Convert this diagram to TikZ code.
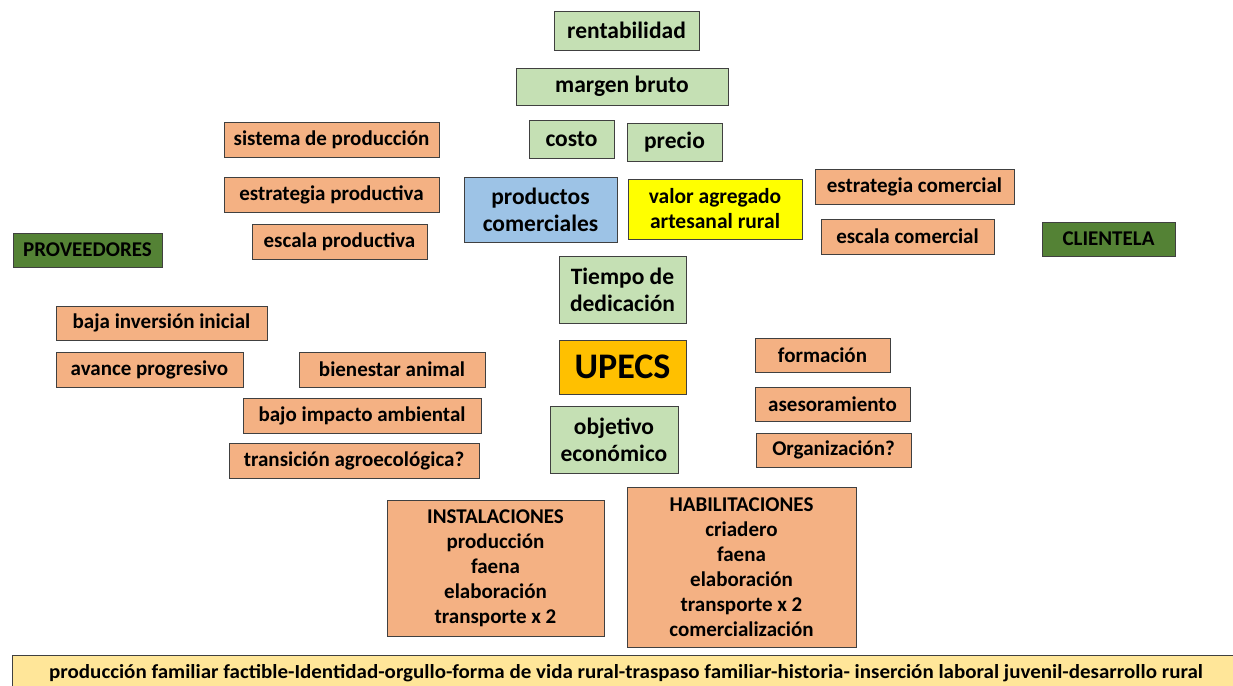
\documentclass[tikz,border=0pt]{standalone}
\usepackage{fontspec}
\setmainfont{Carlito}
\definecolor{cgreen}{HTML}{C5E0B4}
\definecolor{corange}{HTML}{F4B183}
\definecolor{cblue}{HTML}{9DC3E6}
\definecolor{cyellow}{HTML}{FFFF00}
\definecolor{cdkgreen}{HTML}{548235}
\definecolor{cgold}{HTML}{FFC000}
\definecolor{cbar}{HTML}{FFE699}
\definecolor{cborder}{HTML}{404040}
\begin{document}
\begin{tikzpicture}[x=1pt,y=-1pt,
  box/.style={draw=cborder,line width=0.8pt,inner sep=0pt,align=center,
    font=\fontsize{21}{25}\selectfont\bfseries,text=black},
  big/.style={font=\fontsize{23.5}{27}\selectfont\bfseries},
  gbox/.style={box,big,fill=cgreen},
  obox/.style={box,fill=corange},
]
\useasboundingbox (0,0) rectangle (1233,685);
\fill[white] (0,0) rectangle (1233,685);
\newcommand\bx[7]{% style, name, l, t, r, b, text
  \node[#1,minimum width={#5-#3},minimum height={#6-#4}] (#2) at ({(#3+#5)/2},{(#4+#6)/2}) {#7};}
\bx{gbox}{rent}{554}{11}{699}{50}{rentabilidad}
\bx{gbox}{margen}{516}{68}{728}{105}{margen bruto}
\bx{gbox}{costo}{529}{120}{614}{158}{costo}
\bx{gbox}{precio}{627}{123}{722}{161}{precio}
\bx{obox}{sistema}{224}{122}{439}{157}{sistema de producción}
\bx{obox}{estprod}{224}{177}{439}{212}{estrategia productiva}
\bx{obox}{escprod}{252}{224}{427}{259}{escala productiva}
\bx{box,big,fill=cblue}{productos}{464}{177}{617}{242}{productos\\comerciales}
\bx{box,fill=cyellow,font=\fontsize{21.5}{25}\selectfont\bfseries}{valor}{628}{179}{802}{239}{valor agregado\\artesanal rural}
\bx{obox}{estcom}{815}{169}{1014}{204}{estrategia comercial}
\bx{obox}{esccom}{821}{219}{994}{254}{escala comercial}
\bx{box,fill=cdkgreen}{clientela}{1042}{222}{1175}{256}{CLIENTELA}
\bx{box,fill=cdkgreen}{proveedores}{13}{233}{162}{267}{PROVEEDORES}
\bx{gbox}{tiempo}{559}{256}{686}{323}{Tiempo de\\dedicación}
\bx{obox}{baja}{56}{306}{267}{340}{baja inversión inicial}
\bx{obox}{avance}{56}{352}{243}{387}{avance progresivo}
\bx{obox}{bienestar}{299}{352}{485}{387}{bienestar animal}
\bx{box,fill=cgold,font=\fontsize{36}{40}\selectfont\bfseries}{upecs}{559}{340}{686}{394}{UPECS}
\bx{obox}{formacion}{755}{338}{890}{372}{formación}
\bx{obox}{asesor}{755}{387}{910}{421}{asesoramiento}
\bx{obox}{organiz}{756}{433}{911}{467}{Organización?}
\bx{obox}{impacto}{243}{398}{481}{433}{bajo impacto ambiental}
\bx{obox}{transicion}{229}{443}{479}{478}{transición agroecológica?}
\bx{gbox}{objetivo}{550}{406}{678}{473}{objetivo\\económico}
\bx{obox}{instal}{387}{500}{604}{636}{INSTALACIONES\\producción\\faena\\elaboración\\transporte x 2}
\bx{obox}{habil}{627}{487}{856}{647}{HABILITACIONES\\criadero\\faena\\elaboración\\transporte x 2\\comercialización}
\bx{box,fill=cbar,font=\fontsize{21}{22}\selectfont\bfseries}{bar}{12}{655}{1240}{692}{\scalebox{1.0}[0.95]{producción familiar factible-Identidad-orgullo-forma de vida rural-traspaso familiar-historia- inserción laboral juvenil-desarrollo rural}}
\end{tikzpicture}
\end{document}
